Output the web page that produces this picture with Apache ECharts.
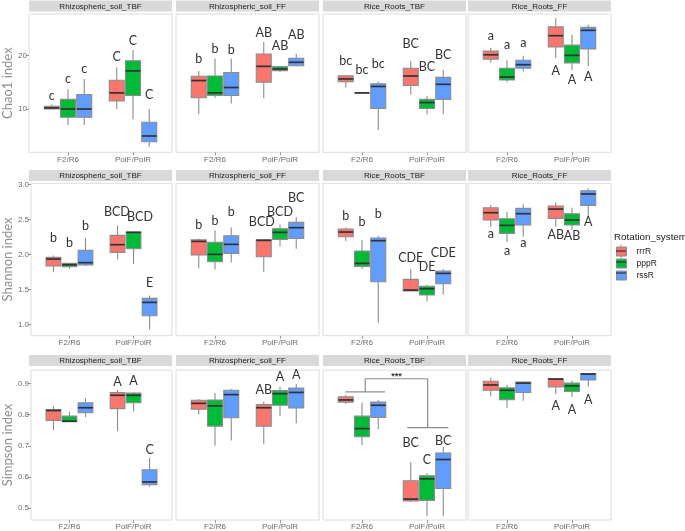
<!DOCTYPE html>
<html><head><meta charset="utf-8">
<script src="https://cdn.jsdelivr.net/npm/echarts@6/dist/echarts.min.js"></script>
<style>html,body{margin:0;padding:0;background:#fff}#c{width:685px;height:531px}</style>
</head><body><div id="c"></div>
<script>
// ---------- data ----------
const panels = ['Rhizospheric_soil_TBF', 'Rhizospheric_soil_FF', 'Rice_Roots_TBF', 'Rice_Roots_FF'];
const categories = ['F2/R6', 'PolF/PolR'];
const groups = ['rrrR', 'pppR', 'rssR'];
const indexNames = ['Chao1 index', 'Shannon index', 'Simpson index'];
const chao1Ticks = [10, 20];
const shannonTicks = [1.0, 1.5, 2.0, 2.5, 3.0];
const simpsonTicks = [0.5, 0.6, 0.7, 0.8, 0.9];

// box rows: [lower whisker, Q1, median, Q3, upper whisker]
// order: F2/R6 rrrR, pppR, rssR, PolF/PolR rrrR, pppR, rssR
const chao1_soilTBF = [[9.95,10.0,10.2,10.5,10.9],[7.0,8.45,10.0,11.8,13.7],[7.0,8.45,10.0,12.7,15.6],
  [10.0,11.5,13.0,15.35,17.8],[8.1,12.5,17.1,19.0,21.0],[3.0,3.9,4.97,7.52,10.0]];
const chao1_soilFF = [[9.0,12.1,15.3,16.1,17.1],[12.1,12.5,13.0,16.15,19.4],[11.0,12.5,14.0,16.8,19.4],
  [12.0,15.0,17.95,20.25,22.5],[16.95,17.15,17.45,17.9,18.0],[17.9,18.07,18.7,19.45,20.3]];
const chao1_rootsTBF = [[14.0,15.1,15.6,16.2,16.2],[13.0,13.0,13.0,13.0,13.0],[6.1,10.1,14.2,14.7,15.1],
  [12.7,14.4,16.15,17.6,18.9],[9.0,10.1,11.2,11.8,12.4],[9.0,11.8,14.6,15.9,17.3]];
const chao1_rootsFF = [[18.6,19.3,20.1,20.8,21.4],[15.0,15.4,15.96,17.6,19.1],[17.0,17.6,18.25,19.07,19.9],
  [19.5,21.55,23.66,25.3,26.9],[17.2,18.6,20.0,21.9,23.9],[17.95,21.2,24.66,25.2,25.7]];

const shannon_soilTBF = [[1.748,1.838,1.938,1.962,1.99],[1.80,1.829,1.857,1.876,1.876],[1.838,1.852,1.886,2.062,2.238],
  [1.933,2.033,2.143,2.276,2.419],[1.867,2.086,2.319,2.324,2.33],[0.933,1.129,1.319,1.376,1.419]];
const shannon_soilFF = [[1.805,1.995,2.19,2.214,2.233],[1.79,1.9,2.005,2.176,2.348],[1.89,2.019,2.148,2.271,2.39],
  [1.757,1.971,2.205,2.214,2.214],[2.119,2.219,2.319,2.371,2.433],[2.086,2.233,2.386,2.462,2.538]];
const shannon_rootsTBF = [[2.195,2.257,2.324,2.367,2.39],[1.8,1.833,1.876,2.052,2.21],[1.029,1.614,2.2,2.238,2.271],
  [1.481,1.481,1.495,1.648,1.795],[1.333,1.424,1.514,1.548,1.571],[1.433,1.586,1.733,1.767,1.795]];
const shannon_rootsFF = [[2.4,2.495,2.6,2.671,2.71],[2.181,2.305,2.419,2.514,2.61],[2.257,2.424,2.586,2.662,2.719],
  [2.4,2.519,2.652,2.695,2.748],[2.348,2.424,2.495,2.586,2.671],[2.533,2.705,2.867,2.914,2.948]];

const simpson_soilTBF = [[0.751,0.781,0.813,0.816,0.827],[0.775,0.777,0.779,0.795,0.81],[0.792,0.806,0.822,0.838,0.852],
  [0.747,0.819,0.862,0.871,0.88],[0.811,0.838,0.862,0.869,0.872],[0.569,0.575,0.584,0.623,0.661]];
const simpson_soilFF = [[0.8,0.817,0.836,0.846,0.85],[0.7,0.763,0.828,0.847,0.869],[0.717,0.79,0.864,0.878,0.882],
  [0.706,0.763,0.822,0.832,0.841],[0.795,0.83,0.867,0.877,0.889],[0.772,0.821,0.871,0.885,0.898]];
const simpson_rootsTBF = [[0.834,0.84,0.847,0.857,0.864],[0.702,0.729,0.755,0.795,0.839],[0.753,0.791,0.83,0.84,0.847],
  [0.52,0.523,0.529,0.588,0.647],[0.474,0.525,0.594,0.604,0.612],[0.474,0.563,0.656,0.677,0.698]];
const simpson_rootsFF = [[0.859,0.878,0.895,0.907,0.919],[0.82,0.848,0.878,0.886,0.896],[0.844,0.871,0.901,0.904,0.907],
  [0.865,0.889,0.914,0.915,0.915],[0.857,0.874,0.892,0.901,0.909],[0.89,0.911,0.93,0.932,0.933]];

// significance letters: [text, y value, optional x value]
const chao1Letters = [
  [['c',12.5],['c',15.6],['c',17.45],['C',19.75],['C',22.7],['C',12.7]],
  [['b',19.4],['b',21.1],['b',21.0],['AB',24.1],['AB',21.8],['AB',23.85]],
  [['bc',19.0],['bc',17.2],['bc',18.3],['BC',22.05],['BC',17.8],['BC',20.0]],
  [['a',23.65],['a',22.0],['a',22.25],['A',17.1],['A',15.4],['A',15.96]]];
const shannonLetters = [
  [['b',2.24],['b',2.17],['b',2.41],['BCD',2.61,1.74],['BCD',2.54,2.1],['E',1.59]],
  [['b',2.43],['b',2.485],['b',2.605],['BCD',2.47,1.72],['BCD',2.61],['BC',2.805]],
  [['b',2.56],['b',2.47],['b',2.58],['CDE',1.96],['DE',1.82],['CDE',2.03]],
  [['a',2.295],['a',2.06],['a',2.17],['AB',2.28],['AB',2.27],['A',2.47]]];
const simpsonLetters = [
  [null,null,null,['A',0.904],['A',0.909],['C',0.687]],
  [null,null,null,['AB',0.88],['A',0.92],['A',0.928]],
  [null,null,null,['BC',0.708],['C',0.654],['BC',0.716]],
  [null,null,null,['A',0.827],['A',0.815],['A',0.848]]];

// bracket in Rice_Roots_TBF Simpson panel: [x1,y1,x2,y2]
const bracketSegments = [[0.745,0.873,1.355,0.873],[1.05,0.873,1.05,0.915],[1.05,0.915,2.01,0.915],
  [2.01,0.915,2.01,0.758],[1.695,0.758,2.33,0.758]];
const bracketLabel = ['***', 1.53, 0.923];

// ---------- layout / style ----------
const fills = ['#F8766D', '#00BA38', '#619CFF'];
const colLeft = [29, 176, 323, 468], colW = 143;
const rowTop = [14, 183.3, 370], rowH = [138.3, 152.4, 151.7];
const stripTop = [0.5, 170, 355], stripH = 11;
const yRanges = [[1.93, 27.7], [0.843, 3.02], [0.462, 0.943]];
const yTicks = [chao1Ticks, shannonTicks, simpsonTicks];
const yFmt = [v => String(Math.round(v)), v => v.toFixed(1), v => v.toFixed(1)];
const boxData = [
  [chao1_soilTBF, chao1_soilFF, chao1_rootsTBF, chao1_rootsFF],
  [shannon_soilTBF, shannon_soilFF, shannon_rootsTBF, shannon_rootsFF],
  [simpson_soilTBF, simpson_soilFF, simpson_rootsTBF, simpson_rootsFF]];
const letterData = [chao1Letters, shannonLetters, simpsonLetters];
const dodge = 0.25, boxW = 0.23;
const lineGray = '#8c8c8c';

function boxRenderer(fill) {
  return function (params, api) {
    const x = api.value(0);
    const lo = api.coord([x, api.value(1)]), q1 = api.coord([x, api.value(2)]);
    const md = api.coord([x, api.value(3)]), q3 = api.coord([x, api.value(4)]);
    const hi = api.coord([x, api.value(5)]);
    const hw = api.size([boxW, 0])[0] / 2;
    const cx = q1[0];
    return { type: 'group', children: [
      { type: 'line', shape: { x1: cx, y1: hi[1], x2: cx, y2: q3[1] }, style: { stroke: lineGray, lineWidth: 1.1 } },
      { type: 'line', shape: { x1: cx, y1: q1[1], x2: cx, y2: lo[1] }, style: { stroke: lineGray, lineWidth: 1.1 } },
      { type: 'rect', shape: { x: cx - hw, y: q3[1], width: 2 * hw, height: Math.max(q1[1] - q3[1], 0) },
        style: { fill: fill, stroke: lineGray, lineWidth: 1.1 } },
      { type: 'line', shape: { x1: cx - hw, y1: md[1], x2: cx + hw, y2: md[1] }, style: { stroke: '#333', lineWidth: 1.7 } }
    ]};
  };
}

const option = {
  animation: false, backgroundColor: '#fff',
  grid: [], xAxis: [], yAxis: [], series: [], graphic: [],
  legend: {
    data: groups, orient: 'vertical', left: 616, top: 246.5, padding: 0,
    itemWidth: 10, itemHeight: 9, itemGap: 2, icon: 'rect',
    itemStyle: { borderColor: lineGray, borderWidth: 1 },
    textStyle: { fontSize: 8.5, color: '#1a1a1a', fontFamily: 'Liberation Sans', lineHeight: 9, padding: [0, 0, 0, 5] }
  }
};

for (let r = 0; r < 3; r++) {
  for (let c = 0; c < 4; c++) {
    const gi = r * 4 + c;
    option.grid.push({ left: colLeft[c], top: rowTop[r], width: colW, height: rowH[r], show: true,
      borderColor: '#dcdcdc', borderWidth: 1, backgroundColor: '#fff' });
    option.xAxis.push({ type: 'value', gridIndex: gi, min: 0.4, max: 2.6,
      axisLine: { show: false }, splitLine: { show: false },
      axisTick: { show: true, customValues: [1, 2], length: 3, lineStyle: { color: '#999' } },
      axisLabel: { customValues: [1, 2], formatter: v => categories[Math.round(v) - 1], fontSize: 8,
        color: '#6b6b6b', margin: 3, fontFamily: 'Liberation Sans' } });
    const left = c === 0;
    option.yAxis.push({ type: 'value', gridIndex: gi, min: yRanges[r][0], max: yRanges[r][1],
      axisLine: { show: false }, splitLine: { show: false },
      axisTick: { show: left, customValues: yTicks[r], length: 3, lineStyle: { color: '#999' } },
      axisLabel: { show: left, customValues: yTicks[r], formatter: yFmt[r], fontSize: 8, color: '#6b6b6b',
        margin: 2, fontFamily: 'Liberation Sans' },
      name: left ? indexNames[r] : '', nameLocation: 'middle', nameGap: 15,
      nameTextStyle: { fontSize: 13, color: '#8f8f8f', fontFamily: 'Lato' } });

    const boxes = boxData[r][c];
    for (let g = 0; g < 3; g++) {
      option.series.push({ type: 'custom', name: groups[g], xAxisIndex: gi, yAxisIndex: gi,
        itemStyle: { color: fills[g] }, renderItem: boxRenderer(fills[g]),
        encode: { x: 0, y: [1, 2, 3, 4, 5] },
        data: [0, 1].map(ci => [ci + 1 + (g - 1) * dodge].concat(boxes[ci * 3 + g])) });
    }
    const letters = letterData[r][c];
    const lItems = [];
    letters.forEach((L, k) => {
      if (!L) return;
      const ci = Math.floor(k / 3), g = k % 3;
      lItems.push({ text: L[0], value: [L[2] !== undefined ? L[2] : ci + 1 + (g - 1) * dodge, L[1]] });
    });
    option.series.push({ type: 'custom', name: 'letters', xAxisIndex: gi, yAxisIndex: gi, z: 5,
      data: lItems.map(o => o.value),
      renderItem: (params, api) => {
        const p = api.coord([api.value(0), api.value(1)]);
        return { type: 'text', x: p[0], y: p[1], style: { text: lItems[params.dataIndex].text, fill: '#333',
          fontSize: 12.5, fontFamily: 'Lato', align: 'center', verticalAlign: 'middle' } };
      } });

    if (r === 2 && c === 2) {
      option.series.push({ type: 'custom', name: 'bracket', xAxisIndex: gi, yAxisIndex: gi, z: 4,
        data: bracketSegments,
        renderItem: (params, api) => {
          const a = api.coord([api.value(0), api.value(1)]), b = api.coord([api.value(2), api.value(3)]);
          return { type: 'line', shape: { x1: a[0], y1: a[1], x2: b[0], y2: b[1] }, style: { stroke: '#8c8c8c', lineWidth: 1.2 } };
        } });
      option.series.push({ type: 'custom', name: 'stars', xAxisIndex: gi, yAxisIndex: gi, z: 5,
        data: [[bracketLabel[1], bracketLabel[2]]],
        renderItem: (params, api) => {
          const p = api.coord([api.value(0), api.value(1)]);
          return { type: 'text', x: p[0], y: p[1], style: { text: bracketLabel[0], fill: '#333', fontSize: 9,
            fontWeight: 'bold', fontFamily: 'Liberation Sans', align: 'center', verticalAlign: 'middle' } };
        } });
    }

    // facet strip
    option.graphic.push({ type: 'rect', left: colLeft[c], top: stripTop[r], silent: true,
      shape: { width: colW, height: stripH }, style: { fill: '#d9d9d9' } });
    option.graphic.push({ type: 'text', x: colLeft[c] + colW / 2, y: stripTop[r] + stripH / 2 + 0.5, silent: true,
      style: { text: panels[c], fill: '#1a1a1a', fontSize: 8, fontFamily: 'Liberation Sans', align: 'center', verticalAlign: 'middle' } });
  }
}

// legend title and key details (median line and whisker stubs)
option.graphic.push({ type: 'text', x: 614, y: 237, silent: true,
  style: { text: 'Rotation_system', fill: '#1a1a1a', fontSize: 9.8, fontFamily: 'Liberation Sans', align: 'left', verticalAlign: 'middle' } });
[251, 262, 273].forEach(yc => {
  option.graphic.push({ type: 'line', z: 100, silent: true, shape: { x1: 616, y1: yc, x2: 626, y2: yc }, style: { stroke: '#333', lineWidth: 1.2 } });
  option.graphic.push({ type: 'line', z: 100, silent: true, shape: { x1: 621, y1: yc - 6.3, x2: 621, y2: yc - 4.5 }, style: { stroke: lineGray, lineWidth: 1 } });
  option.graphic.push({ type: 'line', z: 100, silent: true, shape: { x1: 621, y1: yc + 4.5, x2: 621, y2: yc + 6.3 }, style: { stroke: lineGray, lineWidth: 1 } });
});

const chart = echarts.init(document.getElementById('c'));
chart.setOption(option);
</script></body></html>
